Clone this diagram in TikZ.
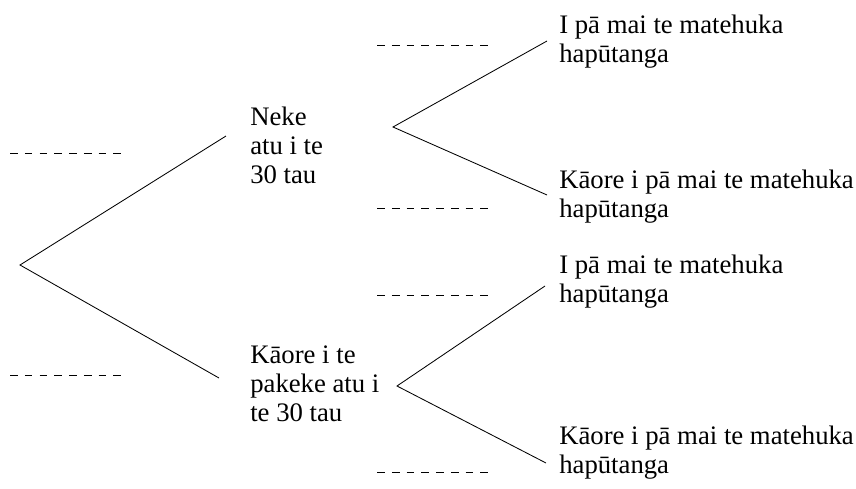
\documentclass[tikz,border=0pt]{standalone}
\usepackage{fontspec}
\setmainfont{Liberation Serif}
\usetikzlibrary{positioning}

\begin{document}
\begin{tikzpicture}[
    x=0.025cm, y=-0.025cm,
    lbl/.style  = {anchor=base west, inner sep=0pt, align=left,
                   font=\fontsize{19}{20.6}\selectfont},
    branch/.style = {line width=0.6pt, black},
    blank/.style  = {line width=0.5pt, dash pattern=on 5.5pt off 5pt},
  ]
    \useasboundingbox (0,0) rectangle (856,488);

    % fork points
    \coordinate (root) at (20,265);
    \coordinate (up)   at (393,127);
    \coordinate (lo)   at (397,386);

    % branch ends
    \coordinate (upend)   at (226,136);
    \coordinate (loend)   at (219,378);
    \coordinate (uuend)   at (547,41);
    \coordinate (ulend)   at (547,195);
    \coordinate (luend)   at (545,286);
    \coordinate (llend)   at (546,463);

    % labels (placed at the baseline of their last line)
    \node[lbl] (over)  at (250,183) {Neke\\atu i te\\30 tau};
    \node[lbl] (under) at (250,421) {Kāore i te\\pakeke atu i\\te 30 tau};
    \node[lbl] (uu) at (559,62)  {I pā mai te matehuka\\hapūtanga};
    \node[lbl] (ul) at (559,217) {Kāore i pā mai te matehuka\\hapūtanga};
    \node[lbl] (lu) at (559,302) {I pā mai te matehuka\\hapūtanga};
    \node[lbl] (ll) at (559,473) {Kāore i pā mai te matehuka\\hapūtanga};

    % answer blanks
    \coordinate (b1s) at (10,153);  \coordinate (b1e) at (122,153);
    \coordinate (b2s) at (10,375);  \coordinate (b2e) at (122,375);
    \coordinate (b3s) at (377,45);  \coordinate (b3e) at (490,45);
    \coordinate (b4s) at (377,208); \coordinate (b4e) at (490,208);
    \coordinate (b5s) at (377,295); \coordinate (b5e) at (490,295);
    \coordinate (b6s) at (377,472); \coordinate (b6e) at (490,472);

    \draw[branch] (upend) -- (root) -- (loend);
    \draw[branch] (uuend) -- (up) -- (ulend);
    \draw[branch] (luend) -- (lo) -- (llend);

    \draw[blank] (b1s) -- (b1e);
    \draw[blank] (b2s) -- (b2e);
    \draw[blank] (b3s) -- (b3e);
    \draw[blank] (b4s) -- (b4e);
    \draw[blank] (b5s) -- (b5e);
    \draw[blank] (b6s) -- (b6e);
  \end{tikzpicture}
\end{document}
